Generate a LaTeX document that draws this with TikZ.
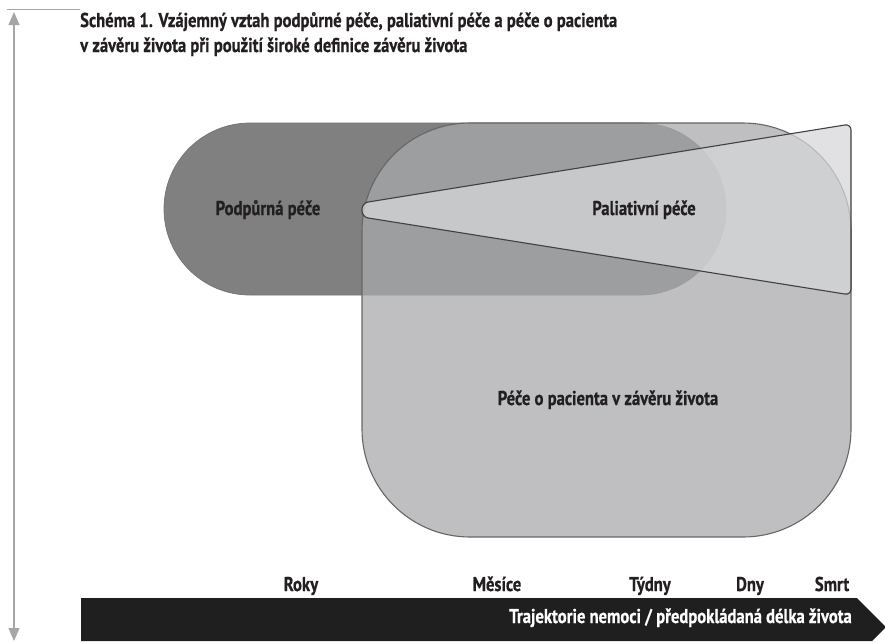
\documentclass[tikz,border=0pt]{standalone}
\usepackage{fontspec}
\setmainfont{PT Sans}[FakeStretch=0.83,BoldFeatures={FakeBold=0.6}]
\usetikzlibrary{arrows.meta}
\definecolor{textgray}{HTML}{231F20}
\definecolor{supportgray}{HTML}{7F807F}
\definecolor{eolgray}{HTML}{A8A9AB}
\definecolor{palgray}{HTML}{D6D7D9}
\definecolor{rulegray}{HTML}{A6A6A8}

\begin{document}
\begin{tikzpicture}[x=1pt,y=-1pt,
    lbl/.style={font=\bfseries\fontsize{20}{24}\selectfont, text=textgray, inner sep=0pt, anchor=base},
    shapeline/.style={draw=black!70, line width=1.1pt}
  ]
  \useasboundingbox (0,0) rectangle (885,641);
  % side arrow
  \draw[rulegray, line width=0.6pt] (7,9) -- (80,9);
  \draw[rulegray, line width=1.2pt, {Triangle[width=11pt,length=13pt]}-{Triangle[width=11pt,length=13pt]}] (14,12) -- (14,641);
  % title
  \node[lbl, anchor=base west] (title1) at (80,27) {Schéma 1. Vzájemný vztah podpůrné péče, paliativní péče a péče o pacienta};
  \node[lbl, anchor=base west] (title2) at (80,52) {v závěru života při použití široké definice závěru života};
  % regions
  \draw[fill=supportgray, draw=black!55, line width=0.7pt, rounded corners=86pt] (164,123) rectangle (726,295);
  \draw[shapeline, draw=black!60, fill=eolgray, fill opacity=0.74, rounded corners=108pt] (362,123) rectangle (851,537);
  \draw[shapeline, draw=black!75, fill=palgray, fill opacity=0.74, rounded corners=6pt]
    (851,124) -- (362,203) -- (362,217) -- (851,295) -- cycle;
  % labels
  \node[lbl] (podpurna) at (268,215) {Podpůrná péče};
  \node[lbl] (paliativni) at (644,215) {Paliativní péče};
  \node[lbl] (zaver) at (608,405) {Péče o pacienta v závěru života};
  % time axis
  \fill[black!88] (81,598) -- (857,598) -- (886,627) -- (872,641) -- (81,641) -- cycle;
  \node[lbl, text=white, anchor=base east] (trajektorie) at (852,623) {Trajektorie nemoci / předpokládaná délka života};
  \node[lbl] (roky) at (301,591) {Roky};
  \node[lbl] (mesice) at (497,591) {Měsíce};
  \node[lbl] (tydny) at (650,591) {Týdny};
  \node[lbl] (dny) at (750,591) {Dny};
  \node[lbl] (smrt) at (832,591) {Smrt};
\end{tikzpicture}
\end{document}
